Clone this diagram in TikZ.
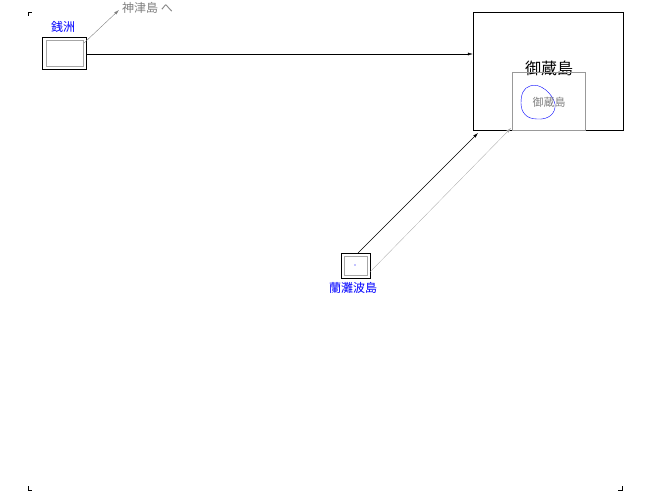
\documentclass[tikz,border=0pt]{standalone}
\usepackage{fontspec}
\newfontfamily\cjk{Noto Sans CJK JP}
\usetikzlibrary{arrows.meta}
\begin{document}
\begin{tikzpicture}[x=1pt,y=-1pt,
  lbl/.style={font=\cjk\fontsize{12}{14}\selectfont,inner sep=0pt},
  arr/.style={-{Latex[length=5pt,width=3pt]}}]
\useasboundingbox (0,0) rectangle (650,500);
\draw[line width=0.8pt] (28,16)--(28,12)--(32,12);
\draw[line width=0.8pt] (28,486)--(28,490)--(32,490);
\draw[line width=0.8pt] (622,486)--(622,490)--(618,490);
% Zenisu
\node[draw,minimum width=44pt,minimum height=32pt,inner sep=0pt] (zen) at (64,53) {};
\draw[gray!70] (46,40) rectangle (83,66);
\node[lbl,text=blue] (zenl) at (63,27) {銭洲};
\coordinate (kz) at (119,10);
\draw[arr,gray] (84,43) -- (kz);
\node[lbl,text=gray,anchor=west] (kzl) at (122,8) {神津島 へ};
% Mikura
\node[draw,minimum width=150pt,minimum height=118pt,inner sep=0pt] (mik) at (548,71) {};
\node[lbl,font=\cjk\fontsize{16}{18}\selectfont] (mikl) at (549,68) {御蔵島};
\node[draw=gray!80,minimum width=73pt,minimum height=58pt,inner sep=0pt] (mikin) at (548.5,101) {};
\draw[blue] (530,86) .. controls (540,82) and (553,94) .. (555,104) .. controls (556,114) and (548,120) .. (537,119) .. controls (526,119) and (521,112) .. (521,103) .. controls (521,93) and (524,88) .. (530,86);
\node[lbl,text=gray,font=\cjk\fontsize{11}{13}\selectfont] (mikil) at (549,102) {御蔵島};
\draw[arr] (zen.east |- 0,54) -- (mik.west |- 0,54);
% Ranabakoshima
\node[draw,minimum width=29pt,minimum height=25pt,inner sep=0pt] (ran) at (355.5,265.5) {};
\draw[gray!70] (344,256) rectangle (367,275);
\fill[blue] (355,265) circle (0.6pt);
\node[lbl,text=blue] (ranl) at (353,288) {蘭灘波島};
\draw[arr] (358,253) -- (478,133);
\draw[arr,gray!70,line width=0.3pt] (370,272) -- (511,128);
\end{tikzpicture}
\end{document}
